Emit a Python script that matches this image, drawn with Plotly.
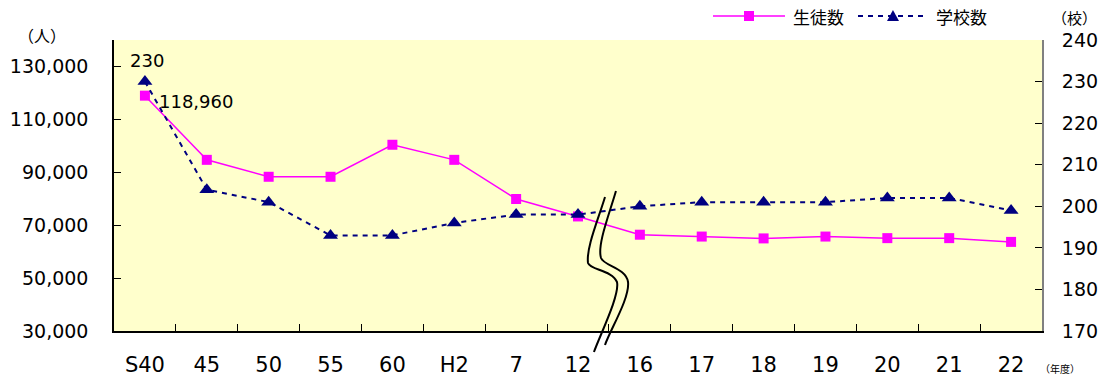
import plotly.graph_objects as go

# ---- data ----
years = ["S40", "45", "50", "55", "60", "H2", "7", "12", "16", "17", "18", "19", "20", "21", "22"]
students = [118960, 94700, 88300, 88300, 100400, 94700, 79900, 73300, 66400, 65700, 65000, 65700, 65100, 65100, 63682]
schools = [230, 204, 201, 193, 193, 196, 198, 198, 200, 201, 201, 201, 202, 202, 199]
series_names = ["生徒数", "学校数"]

W, H = 1103, 376
L, R, T, B = 114, 1042, 40, 331  # plot area pixel box

def px(x):
    return (x - L) / (R - L)

def py(y):
    return (B - y) / (B - T)

NUM_FONT = "DejaVu Sans"
CJK_FONT = "Noto Sans CJK JP"
MAGENTA = "#FF00FF"
NAVY = "#000080"
NAVY_DASH = "5px,5px"

fig = go.Figure()
fig.add_trace(go.Scatter(
    x=years, y=students, name=series_names[0], mode="lines+markers",
    line=dict(color=MAGENTA, width=1.5),
    marker=dict(symbol="square", size=10, color=MAGENTA),
    yaxis="y", cliponaxis=False, showlegend=False,
))
fig.add_trace(go.Scatter(
    x=years, y=schools, name=series_names[1], mode="lines+markers",
    line=dict(color=NAVY, width=2, dash=NAVY_DASH),
    marker=dict(symbol="triangle-up", size=13, color=NAVY),
    yaxis="y2", cliponaxis=False, showlegend=False,
))

fig.update_layout(
    width=W, height=H, autosize=False,
    margin=dict(l=L, r=W - R, t=T, b=H - B, pad=0, autoexpand=False),
    paper_bgcolor="white", plot_bgcolor="#FFFFCC",
    font=dict(family=NUM_FONT, color="#000000", size=18),
    showlegend=False,
    xaxis=dict(
        type="category", categoryorder="array", categoryarray=years,
        range=[-0.5, len(years) - 0.5], automargin=False,
        showline=True, linecolor="#000000", linewidth=1.5,
        ticks="inside", ticklen=7, tickcolor="#000000", tickson="boundaries",
        tickfont=dict(size=21, family=NUM_FONT), ticklabelstandoff=14,
        showgrid=False, zeroline=False,
    ),
    yaxis=dict(
        range=[30000, 140000], tick0=30000, dtick=20000, tickformat=",",
        automargin=False,
        showline=True, linecolor="#000000", linewidth=1.5,
        ticks="inside", ticklen=7, tickcolor="#000000",
        tickfont=dict(size=19, family=NUM_FONT), ticklabelstandoff=20,
        showgrid=False, zeroline=False,
    ),
    yaxis2=dict(
        overlaying="y", side="right", range=[170, 240], tick0=170, dtick=10,
        automargin=False,
        showline=True, linecolor="#808080", linewidth=2,
        ticks="inside", ticklen=7, tickcolor="#000000",
        tickfont=dict(size=19, family=NUM_FONT), ticklabelstandoff=14,
        showgrid=False, zeroline=False,
    ),
)

# value labels
fig.add_annotation(x=years[0], y=schools[0], xref="x", yref="y2", text=str(schools[0]),
                   showarrow=False, yshift=21, xshift=2, font=dict(size=18),
                   xanchor="center", yanchor="middle")
fig.add_annotation(x=years[0], y=students[0], xref="x", yref="y", text=f"{students[0]:,}",
                   showarrow=False, xanchor="left", yanchor="middle", xshift=12, yshift=-6,
                   font=dict(size=18))
fig.add_annotation(x=years[-1], y=schools[-1], xref="x", yref="y2", text=str(schools[-1]),
                   showarrow=False, xshift=-12, yshift=21, font=dict(size=18),
                   xanchor="center", yanchor="middle")
fig.add_annotation(x=years[-1], y=students[-1], xref="x", yref="y", text=f"{students[-1]:,}",
                   showarrow=False, xshift=-21, yshift=-21, font=dict(size=18),
                   xanchor="center", yanchor="middle")

# unit labels
for xx, yy, txt, sz in [(42, 35, "（人）", 16), (1074, 17, "（校）", 15), (1060, 368, "（年度）", 10)]:
    fig.add_annotation(x=px(xx), y=py(yy), xref="paper", yref="paper", text=txt,
                       showarrow=False, xanchor="center", yanchor="middle",
                       font=dict(family=CJK_FONT, size=sz))

# legend (drawn manually to match the long line samples)
LY = 16
legend_items = [
    (713, 785, series_names[0], MAGENTA, "solid", 1.5, "square"),
    (858, 928, series_names[1], NAVY, NAVY_DASH, 2, "triangle"),
]
for x0, x1, name, color, dash, lw, sym in legend_items:
    fig.add_shape(type="line", xref="paper", yref="paper",
                  x0=px(x0), x1=px(x1), y0=py(LY), y1=py(LY),
                  line=dict(color=color, width=lw, dash=dash))
    xm = (x0 + x1) / 2
    if sym == "square":
        fig.add_shape(type="rect", xref="paper", yref="paper",
                      x0=px(xm - 5), x1=px(xm + 5), y0=py(LY + 5), y1=py(LY - 5),
                      fillcolor=color, line=dict(width=0))
    else:
        p = (f"M {px(xm - 6):.4f},{py(LY + 5):.4f} L {px(xm + 6):.4f},{py(LY + 5):.4f} "
             f"L {px(xm):.4f},{py(LY - 6):.4f} Z")
        fig.add_shape(type="path", xref="paper", yref="paper", path=p,
                      fillcolor=color, line=dict(width=0))
    fig.add_annotation(x=px(x1 + 6), y=py(LY), xref="paper", yref="paper", text=name,
                       xanchor="left", yanchor="middle", showarrow=False,
                       font=dict(family=CJK_FONT, size=17, color="#000"))

# axis break mark (double wavy line)
def path(points):
    (x0, y0), rest = points[0], points[1:]
    s = f"M {px(x0):.4f},{py(y0):.4f}"
    for i in range(0, len(rest), 3):
        c1, c2, p = rest[i:i + 3]
        s += f" C {px(c1[0]):.4f},{py(c1[1]):.4f} {px(c2[0]):.4f},{py(c2[1]):.4f} {px(p[0]):.4f},{py(p[1]):.4f}"
    return s

left_line = [(605, 197), (598, 220), (586, 248), (588, 263),
             (590, 270), (612, 270), (617, 282),
             (620, 295), (600, 335), (594, 352)]
right_line = [(616, 191), (609, 215), (597, 245), (601, 258),
              (604, 266), (626, 268), (628, 282),
              (630, 298), (610, 330), (605, 345)]
for pts in (left_line, right_line):
    fig.add_shape(type="path", xref="paper", yref="paper", path=path(pts),
                  line=dict(color="#000000", width=2))

fig.write_html("out.html", config={"displayModeBar": False},
               post_script="document.body.style.margin='0';document.body.style.padding='0';")
